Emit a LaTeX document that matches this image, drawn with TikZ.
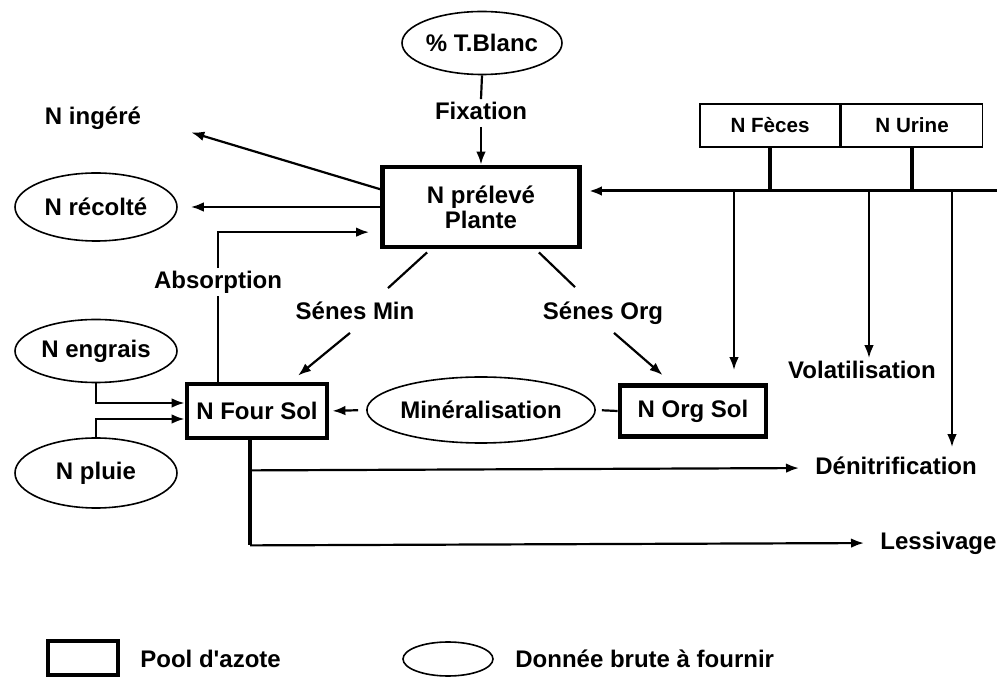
\documentclass[tikz,border=0pt]{standalone}
\usepackage{fontspec}
\setmainfont{Liberation Sans}
\usetikzlibrary{shapes.geometric, arrows.meta, calc}

\begin{document}
\begin{tikzpicture}[x=0.5pt, y=-0.5pt, font=\bfseries\fontsize{12}{12.5}\selectfont,
    pool/.style={draw, line width=2.4pt, inner sep=0pt, align=center},
    donnee/.style={draw, ellipse, line width=0.8pt, inner sep=0pt},
    etiquette/.style={inner sep=1pt, text height=9pt, text depth=2.5pt},
    animal/.style={draw, line width=0.8pt, inner sep=0pt, minimum height=21.5pt, font=\bfseries\fontsize{10.3}{12}\selectfont},
    fleche/.style={-{Latex[length=6.5pt,width=4.8pt]}, line width=1.1pt},
    trait/.style={line width=1.1pt}]
    % Parametri
    \pgfmathsetmacro{\yretour}{191}
    \pgfmathsetmacro{\xbord}{997}
    \useasboundingbox (0,0) rectangle (997,678);
    % Noeuds
    \node[donnee, minimum width=80pt, minimum height=31.5pt] (tblanc) at (482,43) {\% T.Blanc};
    \node[etiquette] (fixation) at (481,113) {Fixation};
    \node[pool, minimum width=98.5pt, minimum height=40pt] (plante) at (481,207) {N prélevé\\Plante};
    \node[etiquette] (ingere) at (93,118) {N ingéré};
    \node[donnee, minimum width=81pt, minimum height=34pt] (recolte) at (96,207) {N récolté};
    \node[etiquette] (absorption) at (218,282) {Absorption};
    \node[donnee, minimum width=81pt, minimum height=31.5pt] (engrais) at (96,351) {N engrais};
    \node[donnee, minimum width=81pt, minimum height=35pt] (pluie) at (96,473) {N pluie};
    \node[pool, minimum width=70pt, minimum height=27pt] (foursol) at (257,411) {N Four Sol};
    \node[etiquette] (senesmin) at (355,313) {Sénes Min};
    \node[etiquette] (senesorg) at (603,313) {Sénes Org};
    \node[donnee, minimum width=98pt, minimum height=33pt] (mineral) at (481,410) {Minéralisation};
    \node[pool, minimum width=73pt, minimum height=25.5pt] (norgsol) at (693,411) {N Org Sol};
    \node[animal, minimum width=70pt] (feces) at (770,125.5) {N Fèces};
    \node[animal, minimum width=70.5pt, anchor=west] (urine) at (feces.east) {N Urine};
    \node[etiquette] (volatil) at (862,372) {Volatilisation};
    \node[etiquette, anchor=west] (denit) at (813,468) {Dénitrification};
    \node[etiquette, anchor=west] (lessiv) at (878,543) {Lessivage};
    % Plante
    \draw[trait] (tblanc.south) -- (fixation.north);
    \draw[fleche] (fixation.south) -- (plante.north);
    \draw[fleche, shorten >=25pt] (plante.170) -- (ingere.east);
    \draw[fleche, shorten >=6.5pt] (plante.west) -- (recolte.east);
    \draw[trait] (foursol.north -| absorption.south) -- (absorption.south);
    \draw[fleche, shorten >=5.5pt] (absorption.north) |- (plante.194);
    % Apports
    \draw[fleche] (engrais.south) |- ($(foursol.west)+(0,-8)$);
    \draw[fleche] (pluie.north) |- ($(foursol.west)+(0,8)$);
    % Senescence
    \draw[trait] ($(plante.south west)+(47,3)$) -- ($(senesmin.north)+(33,-11)$);
    \draw[fleche] ($(senesmin.south)+(-5,6)$) -- ($(foursol.north)+(41,-6)$);
    \draw[trait] ($(plante.south east)+(-43,3)$) -- ($(senesorg.north)+(-28,-12)$);
    \draw[fleche] ($(senesorg.south)+(11,6)$) -- ($(norgsol.north west)+(45,-8)$);
    % Mineralisation
    \draw[trait, shorten >=3pt] (norgsol.west) -- (mineral.east);
    \draw[fleche, shorten <=4pt, shorten >=1.5pt] (mineral.west) -- (foursol.east);
    % Pertes du sol
    \draw[line width=2pt] ($(foursol.south)+(-7,0)$) -- ++(0,105) coordinate (coin);
    \draw[fleche, shorten >=7pt] (coin) -- (lessiv.west);
    \draw[fleche, shorten >=7pt] ($(foursol.south)+(-7,30)$) -- (denit.west);
    % Restitutions animales
    \coordinate (retour) at (\xbord,\yretour);
    \coordinate (chute1) at (734,\yretour);
    \coordinate (chute2) at (869,\yretour);
    \coordinate (chute3) at (952,\yretour);
    \draw[line width=2pt] (feces.south) -- (feces.south |- retour);
    \draw[line width=2pt] (urine.south) -- (urine.south |- retour);
    \draw[fleche, line width=1.5pt, shorten >=3.5pt] (retour) -- (plante.east |- retour);
    \draw[fleche, shorten >=6.5pt] (chute1) -- (chute1 |- norgsol.north);
    \draw[fleche] (chute2) -- (chute2 |- volatil.north);
    \draw[fleche, shorten >=3.5pt] (chute3) -- (chute3 |- denit.north);
    % Legende
    \node[pool, minimum width=35pt, minimum height=17pt] (legpool) at (83,658) {};
    \node[etiquette, anchor=west] (legpooltxt) at (138,661) {Pool d\textquotesingle azote};
    \node[donnee, minimum width=45pt, minimum height=17pt] (legdonnee) at (448,659) {};
    \node[etiquette, anchor=west] (legdonneetxt) at (513,661) {Donnée brute à fournir};
\end{tikzpicture}
\end{document}
